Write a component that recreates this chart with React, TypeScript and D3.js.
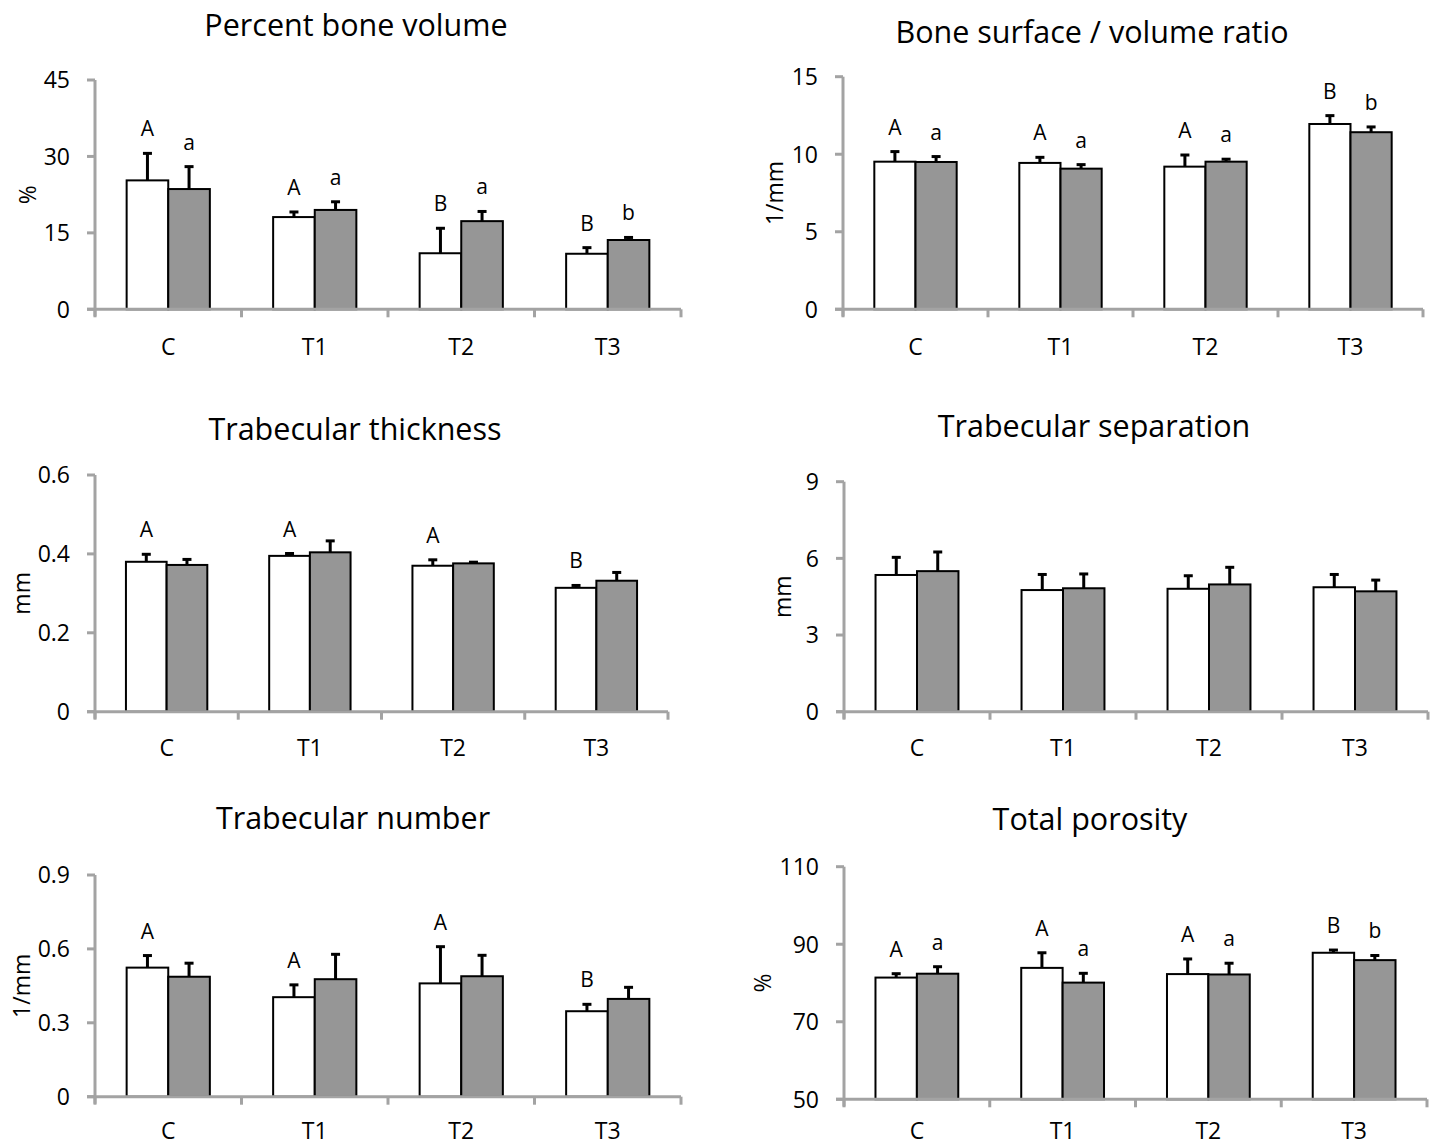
import React, { useEffect, useRef } from 'react';
import * as d3 from 'd3';

// groups on the x axis
const categories = ['C', 'T1', 'T2', 'T3'];

// Percent bone volume
const bvWhite = [25.3, 18.1, 11.0, 10.9];
const bvWhiteSd = [5.3, 1.0, 4.9, 1.2];
const bvGrey = [23.6, 19.5, 17.3, 13.6];
const bvGreySd = [4.4, 1.6, 1.9, 0.5];
const bvWhiteLetters = ['A', 'A', 'B', 'B'];
const bvGreyLetters = ['a', 'a', 'a', 'b'];
const bvTicks = [0, 15, 30, 45];

// Bone surface / volume ratio
const bsWhite = [9.52, 9.44, 9.2, 11.95];
const bsWhiteSd = [0.65, 0.36, 0.75, 0.54];
const bsGrey = [9.5, 9.07, 9.52, 11.42];
const bsGreySd = [0.35, 0.26, 0.16, 0.34];
const bsWhiteLetters = ['A', 'A', 'A', 'B'];
const bsGreyLetters = ['a', 'a', 'a', 'b'];
const bsTicks = [0, 5, 10, 15];

// Trabecular thickness
const thWhite = [0.38, 0.395, 0.37, 0.314];
const thWhiteSd = [0.019, 0.006, 0.015, 0.006];
const thGrey = [0.372, 0.404, 0.376, 0.332];
const thGreySd = [0.014, 0.029, 0.003, 0.021];
const thWhiteLetters = ['A', 'A', 'A', 'B'];
const thTicks = [0, 0.2, 0.4, 0.6];

// Trabecular separation
const spWhite = [5.35, 4.76, 4.81, 4.87];
const spWhiteSd = [0.69, 0.61, 0.51, 0.5];
const spGrey = [5.5, 4.83, 4.98, 4.71];
const spGreySd = [0.75, 0.56, 0.67, 0.44];
const spTicks = [0, 3, 6, 9];

// Trabecular number
const nWhite = [0.524, 0.404, 0.46, 0.347];
const nWhiteSd = [0.049, 0.05, 0.149, 0.028];
const nGrey = [0.487, 0.477, 0.489, 0.397];
const nGreySd = [0.055, 0.101, 0.085, 0.047];
const nWhiteLetters = ['A', 'A', 'A', 'B'];
const nTicks = [0, 0.3, 0.6, 0.9];

// Total porosity
const poWhite = [81.4, 83.9, 82.3, 87.8];
const poWhiteSd = [1.0, 3.9, 3.9, 0.7];
const poGrey = [82.4, 80.1, 82.2, 85.9];
const poGreySd = [1.8, 2.4, 2.9, 1.2];
const poWhiteLetters = ['A', 'A', 'A', 'B'];
const poGreyLetters = ['a', 'a', 'a', 'b'];
const poTicks = [50, 70, 90, 110];

const panels = [
  { title: 'Percent bone volume', unit: '%', white: bvWhite, whiteSd: bvWhiteSd, grey: bvGrey, greySd: bvGreySd,
    wl: bvWhiteLetters, gl: bvGreyLetters, ticks: bvTicks,
    x0: 95, x1: 681, top: 80, bottom: 309.3, titleX: 356, titleY: 36, unitX: 28, catGap: 46 },
  { title: 'Bone surface / volume ratio', unit: '1/mm', white: bsWhite, whiteSd: bsWhiteSd, grey: bsGrey, greySd: bsGreySd,
    wl: bsWhiteLetters, gl: bsGreyLetters, ticks: bsTicks,
    x0: 843, x1: 1423, top: 76.7, bottom: 309.3, titleX: 1092, titleY: 43, unitX: 775, catGap: 46 },
  { title: 'Trabecular thickness', unit: 'mm', white: thWhite, whiteSd: thWhiteSd, grey: thGrey, greySd: thGreySd,
    wl: thWhiteLetters, gl: null, ticks: thTicks,
    x0: 95, x1: 668, top: 475, bottom: 711.7, titleX: 355, titleY: 440, unitX: 22, catGap: 44 },
  { title: 'Trabecular separation', unit: 'mm', white: spWhite, whiteSd: spWhiteSd, grey: spGrey, greySd: spGreySd,
    wl: null, gl: null, ticks: spTicks,
    x0: 844, x1: 1428, top: 481.7, bottom: 711.7, titleX: 1094, titleY: 437, unitX: 783, catGap: 44 },
  { title: 'Trabecular number', unit: '1/mm', white: nWhite, whiteSd: nWhiteSd, grey: nGrey, greySd: nGreySd,
    wl: nWhiteLetters, gl: null, ticks: nTicks,
    x0: 95, x1: 681, top: 875, bottom: 1096.7, titleX: 353, titleY: 829, unitX: 22, catGap: 42 },
  { title: 'Total porosity', unit: '%', white: poWhite, whiteSd: poWhiteSd, grey: poGrey, greySd: poGreySd,
    wl: poWhiteLetters, gl: poGreyLetters, ticks: poTicks,
    x0: 844, x1: 1427, top: 866.7, bottom: 1099.3, titleX: 1090, titleY: 830, unitX: 763, catGap: 40 },
];

const FONT = '"Open Sans", "DejaVu Sans", sans-serif';
const AXIS = '#a3a3a3';

const App = () => {
  const svgRef = useRef(null);

  useEffect(() => {
    const svg = d3.select(svgRef.current);
    svg.selectAll('*').remove();

    panels.forEach((p) => {
      const g = svg.append('g');
      const x = d3.scaleBand().domain(categories).range([p.x0, p.x1]).padding(0);
      const y = d3.scaleLinear().domain([p.ticks[0], p.ticks[p.ticks.length - 1]]).range([p.bottom, p.top]);
      const bw = x.bandwidth() * 0.284;

      // title
      g.append('text')
        .attr('x', p.titleX).attr('y', p.titleY)
        .attr('text-anchor', 'middle')
        .style('font-family', FONT).style('font-size', '30.5px')
        .text(p.title);

      // y axis
      g.append('line')
        .attr('x1', p.x0).attr('x2', p.x0)
        .attr('y1', p.top).attr('y2', p.bottom + 7)
        .attr('stroke', AXIS).attr('stroke-width', 3);
      p.ticks.forEach((t) => {
        g.append('line')
          .attr('x1', p.x0 - 8).attr('x2', p.x0)
          .attr('y1', y(t)).attr('y2', y(t))
          .attr('stroke', AXIS).attr('stroke-width', 3);
        g.append('text')
          .attr('x', p.x0 - 25).attr('y', y(t))
          .attr('dy', '0.36em')
          .attr('text-anchor', 'end')
          .style('font-family', FONT).style('font-size', '23px')
          .text(String(t));
      });

      // unit label
      g.append('text')
        .attr('transform', `translate(${p.unitX},${(p.top + p.bottom) / 2}) rotate(-90)`)
        .attr('dy', '0.36em')
        .attr('text-anchor', 'middle')
        .style('font-family', FONT).style('font-size', '23px')
        .text(p.unit);

      // bars
      const drawSeries = (vals, fill, offset) => {
        categories.forEach((c, i) => {
          const cx = x(c) + x.bandwidth() / 2;
          const bx = offset < 0 ? cx - bw : cx;
          g.append('rect')
            .attr('x', bx).attr('y', y(vals[i]))
            .attr('width', bw).attr('height', y(p.ticks[0]) - y(vals[i]))
            .attr('fill', fill).attr('stroke', '#000').attr('stroke-width', 2);
        });
      };
      drawSeries(p.white, '#ffffff', -1);
      drawSeries(p.grey, '#969696', 1);

      // x axis drawn over the bar bases
      g.append('line')
        .attr('x1', p.x0 - 8).attr('x2', p.x1)
        .attr('y1', p.bottom).attr('y2', p.bottom)
        .attr('stroke', AXIS).attr('stroke-width', 3);
      const bounds = categories.map((c) => x(c)).concat([p.x1]);
      bounds.forEach((bx) => {
        g.append('line')
          .attr('x1', bx).attr('x2', bx)
          .attr('y1', p.bottom).attr('y2', p.bottom + 8)
          .attr('stroke', AXIS).attr('stroke-width', 3);
      });
      categories.forEach((c) => {
        g.append('text')
          .attr('x', x(c) + x.bandwidth() / 2).attr('y', p.bottom + p.catGap)
          .attr('text-anchor', 'middle')
          .style('font-family', FONT).style('font-size', '23px')
          .text(c);
      });

      // error bars and letters
      const drawErr = (vals, sds, offset, letters) => {
        categories.forEach((c, i) => {
          const ex = x(c) + x.bandwidth() / 2 + offset * bw / 2;
          const yt = y(vals[i] + sds[i]);
          g.append('line')
            .attr('x1', ex).attr('x2', ex)
            .attr('y1', y(vals[i])).attr('y2', yt)
            .attr('stroke', '#000').attr('stroke-width', 3);
          g.append('line')
            .attr('x1', ex - 4.5).attr('x2', ex + 4.5)
            .attr('y1', yt).attr('y2', yt)
            .attr('stroke', '#000').attr('stroke-width', 3);
          if (letters) {
            g.append('text')
              .attr('x', ex).attr('y', yt - 17)
              .attr('text-anchor', 'middle')
              .style('font-family', FONT).style('font-size', '21px')
              .text(letters[i]);
          }
        });
      };
      drawErr(p.white, p.whiteSd, -1, p.wl);
      drawErr(p.grey, p.greySd, 1, p.gl);
    });
  }, []);

  return (
    <svg
      ref={svgRef}
      width={1437}
      height={1146}
      style={{ position: 'absolute', left: 0, top: 0, background: '#fff' }}
    />
  );
};

export default App;
